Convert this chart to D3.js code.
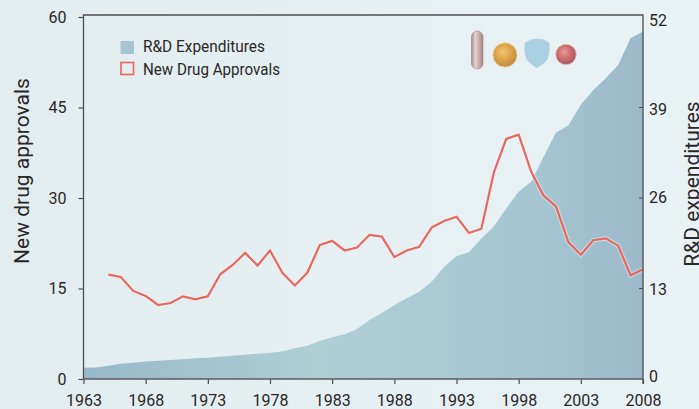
<!DOCTYPE html>
<html>
<head>
<meta charset="utf-8">
<script src="https://cdn.jsdelivr.net/npm/d3@7"></script>
<style>
html, body { margin: 0; padding: 0; background: #e6f0f3; overflow: hidden; }
text { font-family: Roboto, sans-serif; fill: #2a2627; }
</style>
</head>
<body>
<div id="chart"></div>
<script>
const rdYears = d3.range(1963, 2009);
const rdValues = [1.6, 1.65, 1.9, 2.2, 2.35, 2.5, 2.63, 2.73, 2.83, 2.97, 3.06, 3.2, 3.35, 3.49, 3.64, 3.74,
    3.98, 4.4, 4.78, 5.46, 6.0, 6.42, 7.18, 8.48, 9.48, 10.63, 11.6, 12.54, 13.98, 16.1, 17.67, 18.2, 20.2,
    21.9, 24.5, 26.9, 28.35, 31.9, 35.4, 36.4, 39.4, 41.5, 43.2, 45.1, 48.95, 49.9];

const drugYears = d3.range(1965, 2009);
const drugValues = [17.3, 16.9, 14.6, 13.76, 12.27, 12.6, 13.7, 13.2, 13.7, 17.35, 18.9, 20.9, 18.8, 21.3,
    17.6, 15.5, 17.6, 22.2, 22.9, 21.3, 21.8, 23.9, 23.6, 20.2, 21.3, 21.9, 25.1, 26.2, 26.9, 24.2, 24.9,
    34.2, 39.8, 40.5, 34.4, 30.4, 28.6, 22.7, 20.6, 23, 23.3, 22.1, 17.2, 18.2];

const xTicks = [1963, 1968, 1973, 1978, 1983, 1988, 1993, 1998, 2003, 2008];
const leftTicks = [0, 15, 30, 45, 60];
const rightTicks = [0, 13, 26, 39, 52];
const legendLabels = ["R&D Expenditures", "New Drug Approvals"];

const width = 699, height = 409;
const margin = { top: 17, right: 56, bottom: 30, left: 83.5 };
const plotTop = 15; // the frame sits a little above the top tick

const svg = d3.select("#chart").append("svg")
    .attr("width", width)
    .attr("height", height)
    .style("display", "block");

const x = d3.scaleLinear().domain([1963, 2008]).range([margin.left, width - margin.right]);
const yLeft = d3.scaleLinear().domain([0, 60]).range([height - margin.bottom, margin.top]);
const yRight = d3.scaleLinear().domain([0, 52]).range([height - margin.bottom, margin.top]);

const defs = svg.append("defs");

// background paper
const paper = defs.append("linearGradient").attr("id", "paper");
paper.append("stop").attr("offset", "0").attr("stop-color", "#e3edef");
paper.append("stop").attr("offset", "1").attr("stop-color", "#e9f3f6");
svg.append("rect").attr("width", width).attr("height", height).attr("fill", "url(#paper)");

// area gradient
const areaGrad = defs.append("linearGradient").attr("id", "areaGrad");
[[0, "#96b9c8"], [0.2, "#a3c3ce"], [0.42, "#afcfd3"], [0.62, "#aacbd2"], [0.8, "#a5c6d2"], [1, "#9cb9ca"]]
    .forEach(s => areaGrad.append("stop").attr("offset", s[0]).attr("stop-color", s[1]));

// R&D area
const area = d3.area()
    .x((d, i) => x(rdYears[i]))
    .y0(yRight(0))
    .y1(d => yRight(d));

svg.append("path")
    .datum(rdValues)
    .attr("d", area)
    .attr("fill", "url(#areaGrad)");

// approvals line, with the pale halo around it
const line = d3.line()
    .x((d, i) => x(drugYears[i]))
    .y(d => yLeft(d));

svg.append("path")
    .datum(drugValues)
    .attr("d", line)
    .attr("fill", "none")
    .attr("stroke", "#f1f7f8")
    .attr("stroke-opacity", 0.45)
    .attr("stroke-width", 4.5);

svg.append("path")
    .datum(drugValues)
    .attr("d", line)
    .attr("fill", "none")
    .attr("stroke", "#e8675f")
    .attr("stroke-width", 2.2);

// axes
const styleAxis = g => {
    g.selectAll("path").remove();
    g.selectAll("line").attr("stroke", "#4d4d4f").attr("stroke-width", 1.2);
    g.selectAll("text").attr("font-size", 16).attr("fill", "#2a2627");
};

svg.append("g")
    .attr("transform", `translate(0,${height - margin.bottom})`)
    .call(d3.axisBottom(x).tickValues(xTicks).tickFormat(d3.format("d")).tickSize(5).tickPadding(11))
    .call(styleAxis);

svg.append("g")
    .attr("transform", `translate(${margin.left},0)`)
    .call(d3.axisLeft(yLeft).tickValues(leftTicks).tickSize(5).tickPadding(12))
    .call(styleAxis);

// the right-hand labels sit slightly off their ticks in the original
const rightNudge = d3.scaleOrdinal().domain(rightTicks).range([-3, 1, -1, 2, 3]);

svg.append("g")
    .attr("transform", `translate(${width - margin.right},0)`)
    .call(d3.axisRight(yRight).tickValues(rightTicks).tickSize(0).tickPadding(6))
    .call(styleAxis)
    .selectAll("text")
    .attr("y", d => rightNudge(d));

svg.append("g")
    .attr("transform", `translate(${width - margin.right},0)`)
    .selectAll("line")
    .data(rightTicks.slice(1, 4))
    .join("line")
    .attr("x1", -4)
    .attr("x2", 0)
    .attr("y1", d => yRight(d))
    .attr("y2", d => yRight(d))
    .attr("stroke", "#4d4d4f");

// frame: left, top and right lines, then the baseline
svg.append("path")
    .attr("d", `M${x(1963)},${yLeft(0)}V${plotTop}H${x(2008)}V${yLeft(0) + 5}`)
    .attr("fill", "none")
    .attr("stroke", "#4d4d4f")
    .attr("stroke-width", 1.3);

svg.append("line")
    .attr("x1", x(1963)).attr("x2", x(2008))
    .attr("y1", yLeft(0)).attr("y2", yLeft(0))
    .attr("stroke", "#5a5a5c")
    .attr("stroke-width", 1.3);

// axis titles
svg.append("text")
    .attr("transform", "translate(29,171) rotate(-90)")
    .attr("text-anchor", "middle")
    .attr("font-size", 21)
    .text("New drug approvals");

svg.append("text")
    .attr("transform", "translate(699,184) rotate(-90)")
    .attr("text-anchor", "middle")
    .attr("font-size", 21)
    .text("R&D expenditures");

// legend
svg.append("rect")
    .attr("x", 120.5).attr("y", 41).attr("width", 13.5).attr("height", 13)
    .attr("fill", "#a4c5d3");
svg.append("rect")
    .attr("x", 121).attr("y", 62.5).attr("width", 12.5).attr("height", 12)
    .attr("fill", "none")
    .attr("stroke", "#e8675f")
    .attr("stroke-width", 1.6);

const legendWidths = d3.scaleOrdinal().domain(legendLabels).range([122, 137]);

svg.selectAll(".legend-label")
    .data(legendLabels)
    .join("text")
    .attr("class", "legend-label")
    .attr("x", 143)
    .attr("y", (d, i) => 52 + i * 23)
    .attr("font-size", 16)
    .attr("textLength", d => legendWidths(d))
    .attr("lengthAdjust", "spacingAndGlyphs")
    .text(d => d);

// pill icons
const radial = (id, stops) => {
    const g = defs.append("radialGradient").attr("id", id)
        .attr("cx", "0.42").attr("cy", "0.38").attr("r", "0.65");
    stops.forEach((c, i) => g.append("stop").attr("offset", i / (stops.length - 1)).attr("stop-color", c));
};
radial("orangePill", ["#efc474", "#dea24a", "#b98a45"]);
radial("redPill", ["#e79a98", "#cf6a6c", "#a35a5f"]);

const capsule = defs.append("linearGradient").attr("id", "capsule");
["#a78a8c", "#e6d3d2", "#c9aaab", "#a08385"].forEach((c, i) =>
    capsule.append("stop").attr("offset", i / 3).attr("stop-color", c));

svg.append("rect")
    .attr("x", 471.5).attr("y", 31).attr("width", 11.5).attr("height", 38).attr("rx", 5.7)
    .attr("fill", "url(#capsule)")
    .attr("stroke", "#9c8285").attr("stroke-width", 0.6);

svg.append("circle")
    .attr("cx", 505).attr("cy", 55).attr("r", 12.2)
    .attr("fill", "url(#orangePill)")
    .attr("stroke", "#f0d9a0").attr("stroke-width", 1);

svg.append("path")
    .attr("d", "M525,43 L531,40 L537,39 L544,40 L549,43 Q550,58 545,62 L537,68 L529,62 Q524,58 525,43Z")
    .attr("fill", "#a9d0e3")
    .attr("stroke", "#b9d4de").attr("stroke-width", 1);

svg.append("circle")
    .attr("cx", 566).attr("cy", 54.5).attr("r", 10.3)
    .attr("fill", "url(#redPill)")
    .attr("stroke", "#dfc4c2").attr("stroke-width", 0.8);
</script>
</body>
</html>
